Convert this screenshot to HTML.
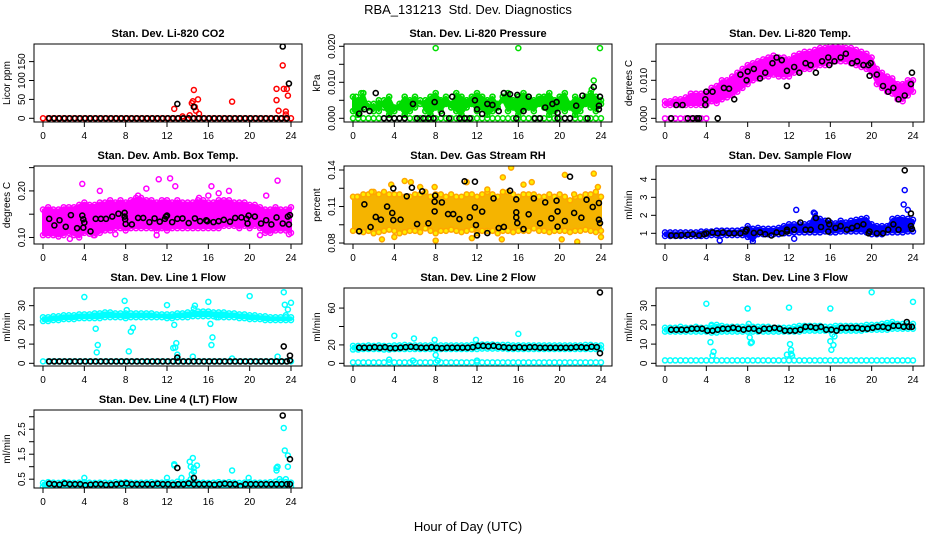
<!DOCTYPE html>
<html><head><meta charset="utf-8"><style>
html,body{margin:0;padding:0;background:#fff;}
svg{display:block;font-family:"Liberation Sans",Arial,sans-serif;}
</style></head><body>
<svg id="chart" width="936" height="540" viewBox="0 0 936 540">
<text x="468" y="14" text-anchor="middle" font-size="13" xml:space="preserve">RBA_131213  Std. Dev. Diagnostics</text>
<text x="468" y="531" text-anchor="middle" font-size="13">Hour of Day (UTC)</text>
</svg>
<script>
// ---------- shared x data ----------
const halfHours = [0,0.5,1,1.5,2,2.5,3,3.5,4,4.5,5,5.5,6,6.5,7,7.5,8,8.5,9,9.5,10,10.5,11,11.5,12,12.5,13,13.5,14,14.5,15,15.5,16,16.5,17,17.5,18,18.5,19,19.5,20,20.5,21,21.5,22,22.5,23,23.5,24];
const blackHours = [0.6,1.1,1.6,2.1,2.6,3.1,3.6,4.1,4.6,5.1,5.6,6.1,6.6,7.1,7.6,8.1,8.6,9.1,9.6,10.1,10.6,11.1,11.6,12.1,12.6,13.1,13.6,14.1,14.6,15.1,15.6,16.1,16.6,17.1,17.6,18.1,18.6,19.1,19.6,20.1,20.6,21.1,21.6,22.1,22.6,23.1,23.6];
const xTicks = [0,4,8,12,16,20,24];

// ---------- CO2 ----------
const co2Base = [0,0,0,0,0,0,0,0,0,0,0,0,0,0,0,0,0,0,0,0,0,0,0,0,0,0,0,0,0,0,0,0,0,0,0,0,0,0,0,0,0,0,0,0,0,0,0,0,0];
const co2OutX = [12.7,13.5,14.2,14.4,14.5,14.6,14.7,14.8,15.0,15.1,18.3,22.6,22.6,22.8,23.2,23.3,23.6,23.5,23.7,23.5];
const co2OutY = [25,5,8,40,45,75,30,20,50,12,44,78,48,20,140,78,78,18,60,10];
const co2Black = [0,0,0,0,0,0,0,0,0,0,0,0,0,0,0,0,0,0,0,0,0,0,0,0,0,0,0,0,0,0,0,0,0,0,0,0,0,0,0,0,0,0,0,0,0,0,0];
const co2BlackExX = [13.0,14.6,23.2,23.8];
const co2BlackExY = [38,30,190,92];

// ---------- Pressure (kPa) ----------
const presA = [0.006,0.005,0.007,0.003,0.004,0.002,0.005,0.006,0.003,0.004,0.006,0.005,0.006,0.004,0.005,0.006,0.007,0.005,0.006,0.004,0.007,0.006,0.005,0.006,0.007,0.006,0.005,0.006,0.004,0.006,0.007,0.005,0.006,0.007,0.006,0.005,0.006,0.006,0.007,0.005,0.006,0.007,0.004,0.006,0.005,0.006,0.007,0.006,0.004];
const presB = [0.002,0.001,0.003,0.004,0.002,0.005,0.003,0.001,0.002,0.003,0.001,0.002,0.003,0.005,0.002,0.001,0.003,0.002,0.004,0.003,0.002,0.001,0.003,0.004,0.002,0.003,0.001,0.002,0.003,0.005,0.002,0.003,0.001,0.002,0.003,0.002,0.004,0.003,0.001,0.002,0.003,0.002,0.003,0.001,0.002,0.004,0.003,0.002,0.005];
const presZero = [0,0,0,0,0,0,0,0,0,0,0,0,0,0,0,0,0,0,0,0,0,0,0,0,0,0,0,0,0,0,0,0,0,0,0,0,0,0,0,0,0,0,0,0,0,0,0,0,0];
const presOutX = [8.0,16.0,23.9,23.3,23.1,0.3,0.8];
const presOutY = [0.0195,0.0195,0.0195,0.0105,0.008,0.006,0.007];
const presBlackX = [0.6,1.1,1.6,2.2,3.0,3.5,4.0,4.5,5.0,5.8,6.2,6.8,7.3,7.8,7.9,8.6,9.3,9.6,10.3,10.8,11.3,11.8,12.0,12.5,13.0,13.5,14.1,14.6,15.2,15.8,15.9,16.5,17.0,17.6,18.1,18.6,19.3,19.7,19.8,19.8,20.5,21.0,21.6,22.2,22.7,23.3,23.8,23.8,23.9];
const presBlackY = [0.0013,0.0025,0.002,0.007,0,0,0,0,0,0.004,0,0,0,0,0.0045,0.0013,0,0.006,0,0,0,0.005,0.0025,0.0012,0.004,0.0037,0.002,0.007,0.0067,0,0.0065,0.002,0.006,0,0,0.003,0.004,0.0045,0.0015,0,0,0,0.0035,0.0063,0,0.0087,0.0035,0.0025,0.006];

// ---------- Li-820 Temp ----------
const tempLo = [0.0035,0.0035,0.0035,0.0035,0.0035,0.0035,0.0035,0.0035,0.0035,0.0045,0.004,0.005,0.0055,0.006,0.007,0.008,0.009,0.010,0.0105,0.011,0.011,0.0115,0.011,0.011,0.011,0.012,0.0125,0.013,0.013,0.0135,0.014,0.014,0.0145,0.015,0.015,0.015,0.0145,0.014,0.0135,0.013,0.012,0.009,0.008,0.007,0.0065,0.005,0.0045,0.006,0.007];
const tempHi = [0.0045,0.0045,0.005,0.005,0.0055,0.0065,0.0065,0.0065,0.007,0.008,0.0085,0.010,0.010,0.011,0.012,0.013,0.014,0.0145,0.015,0.0155,0.016,0.0165,0.016,0.016,0.0155,0.0165,0.017,0.0175,0.0175,0.018,0.0185,0.0185,0.019,0.019,0.019,0.0185,0.0185,0.018,0.0175,0.017,0.016,0.013,0.012,0.011,0.0105,0.009,0.009,0.010,0.010];
const tempZeroX = [0,0.5,1,1.5,2,2.5,3,3.5,4];
const tempZeroY = [0,0,0,0,0,0,0,0,0];
const tempBlackX = [0.6,1.1,1.7,2.2,2.7,3.1,3.3,3.9,3.9,4.0,4.6,5.1,5.7,6.2,6.7,7.3,7.9,8.0,8.6,9.2,9.7,10.4,10.8,11.3,11.8,11.8,12.5,13.0,13.6,14.1,14.6,15.2,15.8,15.9,16.4,17.0,17.5,18.1,18.6,19.2,19.7,19.8,19.9,20.5,21.1,21.6,22.1,22.6,23.2,23.8,23.9];
const tempBlackY = [0,0.0035,0.0035,0,0,0,0,0.0035,0.005,0.007,0.007,0,0.008,0.0078,0.005,0.0115,0.010,0.0123,0.013,0.0105,0.012,0.0145,0.016,0.0153,0.0085,0.0125,0.0135,0.012,0.0145,0.014,0.012,0.015,0.016,0.014,0.015,0.016,0.017,0.0145,0.015,0.014,0.014,0.0112,0.0145,0.0115,0.0085,0.007,0.008,0.005,0.006,0.009,0.012];

// ---------- Amb Box Temp ----------
const ambLo = [0.105,0.105,0.105,0.102,0.105,0.11,0.105,0.10,0.11,0.108,0.105,0.11,0.115,0.115,0.12,0.12,0.115,0.12,0.12,0.12,0.12,0.12,0.115,0.12,0.115,0.12,0.12,0.12,0.12,0.12,0.12,0.12,0.12,0.12,0.12,0.125,0.125,0.125,0.12,0.125,0.12,0.125,0.12,0.11,0.11,0.115,0.115,0.115,0.11];
const ambHi = [0.16,0.165,0.16,0.16,0.165,0.165,0.165,0.17,0.175,0.17,0.17,0.175,0.175,0.18,0.175,0.18,0.175,0.18,0.185,0.185,0.18,0.18,0.175,0.18,0.18,0.175,0.18,0.175,0.175,0.175,0.18,0.18,0.175,0.175,0.18,0.18,0.18,0.175,0.175,0.175,0.17,0.17,0.165,0.16,0.16,0.165,0.16,0.16,0.165];
const ambOutX = [3.8,5.5,9.2,10.0,11.2,12.3,12.8,13.4,15.1,16.3,16.0,17.0,18.0,21.6,22.7,2.6,3.2,4.9,11.0,21.0,23.8,7.0];
const ambOutY = [0.215,0.20,0.19,0.205,0.225,0.227,0.21,0.268,0.185,0.21,0.19,0.195,0.20,0.19,0.222,0.097,0.12,0.105,0.105,0.105,0.107,0.107];
const ambBlackX = [0.6,1.1,1.6,2.2,2.7,3.3,3.8,3.9,3.9,4.0,4.6,5.1,5.6,6.1,6.7,7.3,7.9,7.9,7.95,8.0,8.6,9.2,9.7,10.3,10.8,11.3,11.8,11.9,12.0,12.5,13.0,13.5,14.1,14.7,15.2,15.8,15.9,16.5,17.0,17.5,18.1,18.6,19.2,19.7,19.8,19.9,20.5,21.1,21.6,22.1,22.6,23.2,23.7,23.8,23.9];
const ambBlackY = [0.14,0.126,0.137,0.123,0.148,0.12,0.147,0.121,0.139,0.132,0.113,0.14,0.14,0.14,0.145,0.151,0.153,0.145,0.139,0.129,0.128,0.142,0.142,0.133,0.141,0.134,0.14,0.145,0.147,0.133,0.14,0.141,0.131,0.141,0.135,0.137,0.135,0.133,0.135,0.138,0.134,0.142,0.143,0.14,0.13,0.147,0.145,0.13,0.137,0.128,0.143,0.13,0.145,0.128,0.148];

// ---------- Gas Stream RH ----------
const rhLo = [0.09,0.09,0.089,0.09,0.088,0.089,0.09,0.091,0.09,0.088,0.089,0.09,0.09,0.089,0.092,0.09,0.088,0.09,0.09,0.091,0.09,0.089,0.09,0.091,0.088,0.09,0.09,0.09,0.088,0.09,0.09,0.089,0.09,0.09,0.09,0.092,0.09,0.09,0.089,0.09,0.09,0.09,0.089,0.09,0.09,0.091,0.09,0.089,0.09];
const rhHi = [0.118,0.118,0.12,0.12,0.122,0.12,0.122,0.12,0.12,0.12,0.118,0.118,0.12,0.12,0.122,0.118,0.12,0.12,0.118,0.12,0.118,0.118,0.12,0.12,0.118,0.12,0.122,0.12,0.118,0.122,0.122,0.12,0.118,0.12,0.12,0.12,0.118,0.118,0.12,0.118,0.12,0.118,0.115,0.118,0.118,0.12,0.12,0.122,0.118];
const rhOutX = [0.4,1.8,3.7,5.0,5.6,6.5,7.9,11.0,13.0,14.5,15.3,16.5,17.3,20.5,21.4,23.3,23.7,2.8,4.0,8.0,11.5,14.4,21.7,20.2,24.0];
const rhOutY = [0.118,0.122,0.128,0.131,0.13,0.126,0.126,0.13,0.124,0.134,0.142,0.128,0.13,0.136,0.12,0.137,0.126,0.083,0.085,0.082,0.084,0.083,0.081,0.083,0.085];
const rhBlackX = [0.6,1.1,1.7,2.2,2.7,3.3,3.8,3.9,3.9,4.6,5.2,5.7,6.2,6.7,7.3,7.9,7.9,7.95,8.6,9.2,9.7,10.3,10.8,11.3,11.8,11.8,11.9,12.0,12.5,13.0,13.6,14.1,14.6,15.2,15.8,15.8,15.8,15.9,16.5,17.0,17.5,18.1,18.6,19.2,19.7,19.8,19.8,20.5,21.0,21.4,22.1,22.6,23.2,23.8,23.8,23.9];
const rhBlackY = [0.0896,0.1118,0.0931,0.1014,0.0992,0.110,0.1047,0.1249,0.0989,0.0992,0.1184,0.1255,0.0956,0.1225,0.0962,0.114,0.106,0.119,0.1134,0.1038,0.1038,0.0997,0.1307,0.1011,0.1304,0.1093,0.0948,0.0863,0.1058,0.0882,0.1167,0.0923,0.0932,0.123,0.1159,0.1052,0.101,0.0964,0.0915,0.1036,0.1167,0.0962,0.1134,0.1003,0.1148,0.0934,0.106,0.0981,0.1345,0.1047,0.1008,0.1156,0.1096,0.1129,0.0992,0.0964];

// ---------- Sample Flow ----------
const sfLo = [0.85,0.85,0.85,0.85,0.85,0.85,0.85,0.85,0.85,0.9,0.9,0.9,0.9,0.9,0.9,0.9,0.8,0.55,0.95,0.95,0.95,0.95,0.95,1.0,1.0,1.05,1.05,1.05,1.05,1.05,1.05,1.1,1.05,1.05,1.1,1.1,1.1,1.1,1.1,1.05,0.95,0.95,0.95,1.05,1.05,1.05,1.05,1.1,1.1];
const sfHi = [1.05,1.05,1.05,1.05,1.05,1.05,1.05,1.1,1.1,1.1,1.15,1.15,1.15,1.15,1.15,1.2,1.4,1.25,1.3,1.25,1.25,1.25,1.3,1.4,1.5,1.5,1.5,1.5,1.55,2.1,1.8,1.7,1.6,1.55,1.7,1.6,1.7,1.75,1.8,1.85,1.5,1.4,1.4,1.4,1.8,1.85,1.85,1.8,1.75];
const sfOutX = [12.7,12.5,5.3,23.2,23.1,23.5,23.9,14.4];
const sfOutY = [2.3,0.7,0.6,3.4,2.6,2.3,1.6,2.15];
const sfBlackX = [0.6,1.1,1.6,2.2,2.7,3.3,3.8,4.0,4.6,5.1,5.6,6.2,6.7,7.3,7.8,7.9,8.6,9.2,9.7,10.3,10.8,11.3,11.8,11.8,12.5,13.1,13.6,14.1,14.6,15.1,15.8,15.8,15.9,16.5,17.0,17.6,18.1,18.6,19.2,19.7,19.8,20.5,21.1,21.6,22.1,22.6,23.2,23.8,23.8,23.9];
const sfBlackY = [0.88,0.87,0.9,0.92,0.95,0.88,0.95,1.0,1.05,1.0,1.05,1.0,1.0,1.0,1.1,1.2,1.02,1.05,0.95,0.88,1.05,1.0,1.2,1.1,1.2,1.6,1.2,1.2,1.85,1.35,1.1,1.7,1.5,1.3,1.4,1.2,1.3,1.4,1.5,1.0,1.1,1.0,1.0,1.2,1.5,1.2,4.5,2.1,1.4,1.25];

// ---------- Line 1 ----------
const l1Lo = [22,22,22.5,22.5,23,23,23,23.5,23.5,23.5,23.5,23.5,24,24,24,24,23.5,24,24,24,24,24,24,24,23.5,23.5,24,24,24,24.5,24.5,24.5,24.5,24.5,24,24,24,24,23.5,23.5,23,23,23,22.5,22.5,22.5,22.5,22.5,22.5];
const l1Hi = [24,24,24.5,24.5,25,25,25,25.5,25.5,25.5,26,26,26.5,26.5,26,26,26,26,26,26,26,26,25.5,25.5,25.5,25.5,26,26,26.5,26.5,27,27,27,26.5,26.5,26.5,26,26,25.5,25.5,25,25,24.5,24.5,24,24,24,24,24];
const l1Base = [1,1,1,1,1,1,1,1,1,1,1,1,1,1,1,1,1,1,1,1,1,1,1,1,1,1,1,1,1,1,1,1,1,1,1,1,1,1,1,1,1,1,1,1,1,1,1,1,1];
const l1OutX = [4.0,5.1,5.3,5.2,7.9,8.1,8.3,8.5,8.7,12.0,12.7,12.6,12.9,12.8,13.0,14.5,14.7,14.6,16.0,16.2,16.3,16.4,16.8,18.3,20.0,22.7,23.3,23.4,23.7,24.0,23.5];
const l1OutY = [34.5,18,9.5,5.7,32.5,27.7,6.2,16.5,18.5,30.3,20,8,10.5,8.2,4.5,3.5,30,28.5,32,20.5,9.5,13.5,24,2.5,35,3.5,37,30.5,28,31.5,25];
const l1Black = [1,1,1,1,1,1,1,1,1,1,1,1,1,1,1,1,1,1,1,1,1,1,1,1,1,1,1,1,1,1,1,1,1,1,1,1,1,1,1,1,1,1,1,1,1,1,1];
const l1BlackExX = [13.0,23.3,23.9,23.9];
const l1BlackExY = [3,8.8,4,1.5];

// ---------- Line 2 ----------
const l2Lo = [15,15,15.5,15.5,15.5,15.5,15,15,15.5,15.5,15.5,15.5,15.5,15.5,15.5,15.5,15,15.5,15.5,15.5,15.5,15.5,15.5,15.5,15.5,16,16,16,16,16,15.5,15.5,15.5,15.5,15.5,15.5,15.5,15.5,15.5,15.5,15.5,15.5,15.5,15.5,15.5,15.5,15.5,15.5,15.5];
const l2Hi = [19,19,19,19.5,19,19.5,19,19,19.5,19.5,20,19.5,19.5,19.5,19.5,19.5,19.5,19.5,19.5,19.5,19.5,19.5,19.5,20,20,20.5,20.5,20.5,20,20,20,19.5,19.5,19.5,19.5,19.5,19.5,19.5,19.5,19.5,19.5,19.5,19.5,19.5,19.5,20,20,19.5,19.5];
const l2Base = [1,1,1,1,1,1,1,1,1,1,1,1,1,1,1,1,1,1,1,1,1,1,1,1,1,1,1,1,1,1,1,1,1,1,1,1,1,1,1,1,1,1,1,1,1,1,1,1,1];
const l2OutX = [4.0,5.9,7.9,11.9,16.0,8.0,3.5,5.8,8.2,12.0];
const l2OutY = [30,27,25.5,25.5,32,9,4,3,3,3];
const l2Black = [17,17,17,17.5,17,17.5,16.5,16.5,17,17.5,18,17.5,17,17,17.5,17,16.5,17,17,17,17,17,17.5,19,19,18.5,19,18,17.5,17,17,17.5,17,17.5,17.5,17,17,17,17,17,17,17,17.5,17.5,17,18,17.5];
const l2BlackExX = [23.9,23.9];
const l2BlackExY = [77,11];

// ---------- Line 3 ----------
const l3Lo = [16.5,16.5,16.5,16.5,16.5,16.5,16.5,16.5,16.5,16,16,16.5,16.5,16.5,16.5,16.5,16.5,16.5,16.5,16.5,16.5,16.5,16.5,16.5,16.5,16.5,16.5,17,17,17,17,17,17,17,17,17,17,17,17,17.5,17.5,17.5,17.5,17.5,18,18,18,18,18];
const l3Hi = [18.5,18.5,18.5,19,18.5,18.5,19,18.5,18.5,19.5,20,19.5,19,19,19,19,19,19,19,19,19,18.5,18.5,18.5,18.5,19,19.5,19.5,19.5,19.5,19.5,19,19,19.5,19.5,19.5,19.5,19.5,19.5,20,20,20,20.5,21,21.5,20.5,20.5,20.5,20.5];
const l3Base = [1.5,1.5,1.5,1.5,1.5,1.5,1.5,1.5,1.5,1.5,1.5,1.5,1.5,1.5,1.5,1.5,1.5,1.5,1.5,1.5,1.5,1.5,1.5,1.5,1.5,1.5,1.5,1.5,1.5,1.5,1.5,1.5,1.5,1.5,1.5,1.5,1.5,1.5,1.5,1.5,1.5,1.5,1.5,1.5,1.5,1.5,1.5,1.5,1.5];
const l3OutX = [4.0,8.0,12.0,16.0,20.0,24.0,4.4,4.6,4.7,4.3,4.5,8.2,8.3,8.4,8.1,12.1,12.2,12.3,12.2,11.8,16.0,16.1,16.3,16.2,16.4];
const l3OutY = [31,28.5,29,28.5,37,32,11,4,6,18,20,13.5,10.5,11,20.5,10,5,4,7,4.5,11.5,7,9.5,15,14];
const l3Black = [17.5,17.5,17.5,17.5,18,18,18,17,17,17.5,18,18,18.5,18,17.5,18,18,17,18,18,18.5,18,17,17,17,17.5,19,19,18.5,19,17.5,17.5,17,18.5,18.5,18.5,18.5,18,18,18.5,19,19,18.5,19.5,19.5,19,19];
const l3BlackExX = [23.4,23.9];
const l3BlackExY = [21.5,19];

// ---------- Line 4 ----------
const l4Lo = [0.2,0.2,0.2,0.2,0.2,0.2,0.2,0.2,0.2,0.2,0.2,0.2,0.2,0.2,0.2,0.2,0.2,0.2,0.2,0.2,0.2,0.2,0.2,0.2,0.2,0.2,0.2,0.2,0.2,0.2,0.2,0.2,0.2,0.2,0.2,0.2,0.2,0.2,0.2,0.2,0.2,0.2,0.2,0.2,0.2,0.2,0.2,0.2,0.2];
const l4Hi = [0.35,0.38,0.36,0.35,0.38,0.36,0.35,0.36,0.38,0.36,0.35,0.36,0.36,0.35,0.38,0.36,0.38,0.36,0.35,0.36,0.36,0.38,0.36,0.36,0.38,0.36,0.4,0.36,0.38,0.4,0.36,0.36,0.35,0.36,0.38,0.36,0.38,0.36,0.35,0.36,0.38,0.36,0.36,0.36,0.38,0.4,0.4,0.38,0.36];
const l4OutX = [4.0,12.0,12.7,12.7,13.4,14.2,14.3,14.5,14.6,14.4,14.6,14.9,14.3,18.3,19.9,22.6,22.6,22.7,22.9,23.3,23.4,23.7,23.7,23.5];
const l4OutY = [0.55,0.55,1.05,1.1,0.55,1.2,1.0,1.35,0.8,0.7,0.95,1.05,0.5,0.85,0.55,0.85,0.95,1.0,0.5,2.55,1.65,1.45,1.0,0.5];
const l4Black = [0.32,0.3,0.28,0.33,0.3,0.3,0.3,0.26,0.28,0.3,0.3,0.27,0.28,0.3,0.32,0.33,0.3,0.3,0.3,0.3,0.3,0.32,0.3,0.3,0.28,0.3,0.3,0.33,0.3,0.3,0.3,0.3,0.28,0.3,0.32,0.3,0.3,0.22,0.3,0.3,0.3,0.3,0.3,0.3,0.3,0.3,0.3];
const l4BlackExX = [13.0,14.6,23.2,23.9,23.9];
const l4BlackExY = [0.95,0.55,3.05,1.3,0.3];

// ---------- layout ----------
const NS = 'http://www.w3.org/2000/svg';
const svg = document.getElementById('chart');
const colLeft = [34, 344, 656];
const rowTop = [44, 166, 288, 410];
const PW = 268, PH = 78;

function mk(tag, attrs, parent) {
  const e = document.createElementNS(NS, tag);
  for (const k in attrs) e.setAttribute(k, attrs[k]);
  (parent || svg).appendChild(e);
  return e;
}

function drawPanel(p) {
  const L = colLeft[p.col], T = rowTop[p.row];
  const g = mk('g', {});
  
  
  const xs = h => L + 9 + h * (248 / 24);
  const ys = v => T + PH - (v - p.yLo) / (p.yHi - p.yLo) * PH;
  const clip = mk('clipPath', {id: 'clip-' + p.name}, g);
  mk('rect', {x: L, y: T, width: PW, height: PH}, clip);
  const marks = mk('g', {'clip-path': 'url(#clip-' + p.name + ')'}, g);
  
  

  (p.bands || []).forEach(b => {
    const lo = b[0], hi = b[1];
    let pts = halfHours.map((h, i) => xs(h) + ',' + ys(hi[i]));
    pts = pts.concat(halfHours.slice().reverse().map((h, j) => xs(h) + ',' + ys(lo[halfHours.length - 1 - j])));
    const poly = mk('polygon', {points: pts.join(' '), fill: p.bandFill || p.color, stroke: p.bandFill || p.color, 'stroke-width': 2, 'stroke-linejoin': 'round'}, marks);
    
    
    [lo, hi].forEach(arr => arr.forEach((v, i) => {
      const c = mk('circle', {cx: xs(halfHours[i]), cy: ys(v), r: 2.5, fill: p.fill || 'none', stroke: p.color, 'stroke-width': 1.5}, marks);
      
      
    }));
  });
  (p.pts || []).forEach(s => {
    s[1].forEach((v, i) => {
      const c = mk('circle', {cx: xs(s[0][i]), cy: ys(v), r: 2.5, fill: p.fill || 'none', stroke: p.color, 'stroke-width': 1.5}, marks);
      
      
    });
  });
  (p.black || []).forEach(s => {
    s[1].forEach((v, i) => {
      const c = mk('circle', {cx: xs(s[0][i]), cy: ys(v), r: 2.5, fill: 'none', stroke: '#000', 'stroke-width': 1.6}, marks);
      
      
    });
  });

  const box = mk('rect', {x: L, y: T, width: PW, height: PH, fill: 'none', stroke: '#000', 'stroke-width': 1}, g);
  
  

  xTicks.forEach(t => {
    mk('line', {x1: xs(t), y1: T + PH, x2: xs(t), y2: T + PH + 5, stroke: '#000'}, g);
    const tx = mk('text', {x: xs(t), y: T + PH + 17, 'text-anchor': 'middle', 'font-size': 10}, g);
    tx.textContent = t;
    
    
  });
  p.yTicks.forEach((t, i) => {
    const y = ys(t);
    mk('line', {x1: L - 5, y1: y, x2: L, y2: y, stroke: '#000'}, g);
    const lab = p.yLabels[i];
    if (lab) {
      const tx = mk('text', {x: L - 9, y: y, 'text-anchor': 'middle', 'font-size': 10, transform: 'rotate(-90 ' + (L - 9) + ' ' + y + ')'}, g);
      tx.textContent = lab;
      
      
    }
  });
  const yt = mk('text', {x: L - 24, y: T + PH / 2, 'text-anchor': 'middle', 'font-size': 10, transform: 'rotate(-90 ' + (L - 24) + ' ' + (T + PH / 2) + ')'}, g);
  yt.textContent = p.ylab;
  
  
  const ti = mk('text', {x: L + PW / 2, y: T - 7, 'text-anchor': 'middle', 'font-size': 11, 'font-weight': 'bold'}, g);
  ti.textContent = p.title;
  
  
}

const panels = [
  {name: 'co2-panel', col: 0, row: 0, title: 'Stan. Dev. Li-820 CO2', ylab: 'Licor ppm', yLo: -9.8, yHi: 196.6, color: '#ff0000',
   yTicks: [0,50,100,150], yLabels: ['0','50','100','150'],
   pts: [[halfHours, co2Base], [co2OutX, co2OutY]], black: [[blackHours, co2Black], [co2BlackExX, co2BlackExY]]},
  {name: 'pressure-panel', col: 1, row: 0, title: 'Stan. Dev. Li-820 Pressure', ylab: 'kPa', yLo: -0.00103, yHi: 0.02064, color: '#00dd00',
   yTicks: [0,0.005,0.01,0.015,0.02], yLabels: ['0.000','','0.010','','0.020'],
   pts: [[halfHours, presZero], [halfHours, presA], [halfHours, presB], [presOutX, presOutY]], bands: [[presB, presA]], black: [[presBlackX, presBlackY]]},
  {name: 'temp-panel', col: 2, row: 0, title: 'Stan. Dev. Li-820 Temp.', ylab: 'degrees C', yLo: -0.00097, yHi: 0.01955, color: '#ff00ff',
   yTicks: [0,0.005,0.01,0.015], yLabels: ['0.000','','0.010',''],
   bands: [[tempLo, tempHi]], pts: [[tempZeroX, tempZeroY]], black: [[tempBlackX, tempBlackY]]},
  {name: 'amb-box-panel', col: 0, row: 1, title: 'Stan. Dev. Amb. Box Temp.', ylab: 'degrees C', yLo: 0.086, yHi: 0.2535, color: '#ff00ff',
   yTicks: [0.10,0.15,0.20,0.25], yLabels: ['0.10','','0.20',''],
   bands: [[ambLo, ambHi]], pts: [[ambOutX, ambOutY]], black: [[ambBlackX, ambBlackY]]},
  {name: 'gas-rh-panel', col: 1, row: 1, title: 'Stan. Dev. Gas Stream RH', ylab: 'percent', yLo: 0.0792, yHi: 0.1433, color: '#ffa500', fill: '#ffee00', bandFill: '#f5b400',
   yTicks: [0.08,0.095,0.11,0.125,0.14], yLabels: ['0.08','','0.11','','0.14'],
   bands: [[rhLo, rhHi]], pts: [[rhOutX, rhOutY]], black: [[rhBlackX, rhBlackY]]},
  {name: 'sample-flow-panel', col: 2, row: 1, title: 'Stan. Dev. Sample Flow', ylab: 'ml/min', yLo: 0.406, yHi: 4.74, color: '#0000ff',
   yTicks: [1,2,3,4], yLabels: ['1','2','3','4'],
   bands: [[sfLo, sfHi]], pts: [[sfOutX, sfOutY]], black: [[sfBlackX, sfBlackY]]},
  {name: 'line1-panel', col: 0, row: 2, title: 'Stan. Dev. Line 1 Flow', ylab: 'ml/min', yLo: -1.4, yHi: 39.2, color: '#00ffff',
   yTicks: [0,10,20,30], yLabels: ['0','10','20','30'],
   bands: [[l1Lo, l1Hi]], pts: [[halfHours, l1Base], [l1OutX, l1OutY]], black: [[blackHours, l1Black], [l1BlackExX, l1BlackExY]]},
  {name: 'line2-panel', col: 1, row: 2, title: 'Stan. Dev. Line 2 Flow', ylab: 'ml/min', yLo: -2.9, yHi: 81.8, color: '#00ffff',
   yTicks: [0,20,40,60], yLabels: ['0','20','','60'],
   bands: [[l2Lo, l2Hi]], pts: [[halfHours, l2Base], [l2OutX, l2OutY]], black: [[blackHours, l2Black], [l2BlackExX, l2BlackExY]]},
  {name: 'line3-panel', col: 2, row: 2, title: 'Stan. Dev. Line 3 Flow', ylab: 'ml/min', yLo: -1.4, yHi: 39.2, color: '#00ffff',
   yTicks: [0,10,20,30], yLabels: ['0','10','20','30'],
   bands: [[l3Lo, l3Hi]], pts: [[halfHours, l3Base], [l3OutX, l3OutY]], black: [[blackHours, l3Black], [l3BlackExX, l3BlackExY]]},
  {name: 'line4-panel', col: 0, row: 3, title: 'Stan. Dev. Line 4 (LT) Flow', ylab: 'ml/min', yLo: 0.147, yHi: 3.27, color: '#00ffff',
   yTicks: [0.5,1,1.5,2,2.5,3], yLabels: ['0.5','','1.5','','2.5',''],
   bands: [[l4Lo, l4Hi]], pts: [[l4OutX, l4OutY]], black: [[blackHours, l4Black], [l4BlackExX, l4BlackExY]]}
];
panels.forEach(drawPanel);
</script>
</body></html>
